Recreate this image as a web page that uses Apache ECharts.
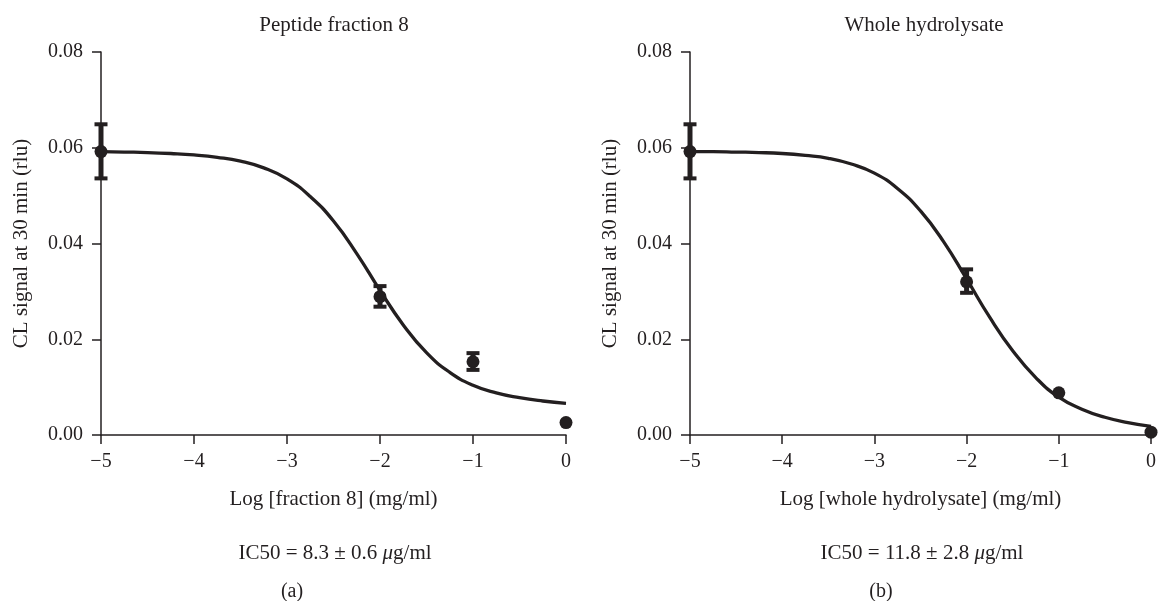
<!DOCTYPE html>
<html><head><meta charset="utf-8">
<script src="https://cdn.jsdelivr.net/npm/echarts@6/dist/echarts.min.js"></script>
<style>html,body{margin:0;padding:0;background:#fff}#c{width:1159px;height:601px}</style>
</head><body><div id="c"></div>
<script>
// Left panel (a): Peptide fraction 8
const xLogA = [-5, -2, -1, 0];
const meanA = [0.0592, 0.0289, 0.0153, 0.0026];
const lowA  = [0.0536, 0.0268, 0.0136, null];
const highA = [0.0649, 0.0311, 0.0171, null];
const curveXA = [-5, -4.75, -4.5, -4.25, -4, -3.75, -3.5, -3.25, -3, -2.75, -2.5, -2.25, -2, -1.75, -1.5, -1.25, -1, -0.75, -0.5, -0.25, 0];
const curveYA = [0.0592, 0.0591, 0.0590, 0.0588, 0.0585, 0.0580, 0.0572, 0.0558, 0.0535, 0.0498, 0.0447, 0.0379, 0.0302, 0.0230, 0.0172, 0.0131, 0.0104, 0.0088, 0.0078, 0.0071, 0.0066];
// Right panel (b): Whole hydrolysate
const xLogB = [-5, -2, -1, 0];
const meanB = [0.0592, 0.0320, 0.0088, 0.0006];
const lowB  = [0.0536, 0.0297, null, null];
const highB = [0.0649, 0.0346, null, null];
const curveXB = [-5, -4.75, -4.5, -4.25, -4, -3.75, -3.5, -3.25, -3, -2.75, -2.5, -2.25, -2, -1.75, -1.5, -1.25, -1, -0.75, -0.5, -0.25, 0];
const curveYB = [0.0592, 0.0592, 0.0591, 0.0590, 0.0588, 0.0584, 0.0578, 0.0566, 0.0547, 0.0515, 0.0468, 0.0404, 0.0326, 0.0246, 0.0176, 0.0120, 0.0079, 0.0054, 0.0037, 0.0026, 0.0018];

const yTicks = [0, 0.02, 0.04, 0.06, 0.08];
const xTicks = [-5, -4, -3, -2, -1, 0];

const FONT = '"Liberation Serif", "DejaVu Serif", serif';
const INK = '#231f20';

function pairs(xs, ys){ return xs.map((x,i)=>[x, ys[i]]); }
function errData(xs, lo, hi){ const d=[]; xs.forEach((x,i)=>{ if(lo[i]!=null) d.push([x, lo[i], hi[i]]); }); return d; }

function renderErr(params, api){
  const x = api.value(0);
  const p1 = api.coord([x, api.value(1)]);
  const p2 = api.coord([x, api.value(2)]);
  const hw = 6.5;
  return {type:'group', children:[
    {type:'line', shape:{x1:p1[0], y1:p1[1], x2:p2[0], y2:p2[1]}, style:{stroke: INK, lineWidth: 5}},
    {type:'line', shape:{x1:p1[0]-hw, y1:p1[1], x2:p1[0]+hw, y2:p1[1]}, style:{stroke: INK, lineWidth: 4}},
    {type:'line', shape:{x1:p2[0]-hw, y1:p2[1], x2:p2[0]+hw, y2:p2[1]}, style:{stroke: INK, lineWidth: 4}}
  ]};
}

function xAxis(idx, name){
  return {
    type:'value', gridIndex: idx, min:xTicks[0], max:xTicks[xTicks.length-1], interval:1,
    name: name, nameLocation:'middle', nameGap: 54,
    nameTextStyle:{fontFamily:FONT, fontSize:21, color:INK},
    axisLine:{show:true, onZero:false, lineStyle:{color:INK, width:1.5}},
    axisTick:{show:true, length:9, lineStyle:{color:INK, width:1.5}},
    axisLabel:{fontFamily:FONT, fontSize:20, color:INK, margin:17,
      formatter: v => String(v).replace('-', '\u2212')},
    splitLine:{show:false}
  };
}
function yAxis(idx){
  return {
    type:'value', gridIndex: idx, min:yTicks[0], max:yTicks[yTicks.length-1], interval:0.02,
    name:'CL signal at 30 min (rlu)', nameLocation:'middle', nameGap: 69,
    nameTextStyle:{fontFamily:FONT, fontSize:21, color:INK},
    axisLine:{show:true, onZero:false, lineStyle:{color:INK, width:1.5}},
    axisTick:{show:true, length:9, lineStyle:{color:INK, width:1.5}},
    axisLabel:{fontFamily:FONT, fontSize:20, color:INK, margin:18,
      formatter: v => v.toFixed(2)},
    splitLine:{show:false}
  };
}

const chart = echarts.init(document.getElementById('c'), null, {renderer:'canvas'});
const T = (text, x, y, size) => ({type:'text', x, y, style:{text, font: size+'px '+FONT, fill:INK, align:'center', verticalAlign:'middle',
  rich:{i:{fontFamily:FONT, fontSize:size, fontStyle:'italic', fill:INK, color:INK}}}});
const curve = (i, xs, ys) => ({type:'line', xAxisIndex:i, yAxisIndex:i, data:pairs(xs, ys), smooth:0.5,
  showSymbol:false, lineStyle:{color:INK, width:3.3}, z:2});
chart.setOption({
  backgroundColor:'#fff',
  animation:false,
  grid:[
    {left:101, right:593, top:52, bottom:166},
    {left:690, right:6, top:52, bottom:166}
  ],
  xAxis:[xAxis(0,'Log [fraction 8] (mg/ml)'), xAxis(1,'Log [whole hydrolysate] (mg/ml)')],
  yAxis:[yAxis(0), yAxis(1)],
  graphic:[
    T('Peptide fraction 8', 334, 25, 21),
    T('Whole hydrolysate', 924, 25, 21),
    T('IC50 = 8.3 \u00b1 0.6 {i|\u03bc}g/ml', 335, 553, 21),
    T('IC50 = 11.8 \u00b1 2.8 {i|\u03bc}g/ml', 922, 553, 21),
    T('(a)', 292, 592, 20),
    T('(b)', 881, 592, 20)
  ],
  series:[
    curve(0, curveXA, curveYA),
    {type:'custom', xAxisIndex:0, yAxisIndex:0, data:errData(xLogA, lowA, highA), renderItem:renderErr, z:3},
    {type:'scatter', xAxisIndex:0, yAxisIndex:0, data:pairs(xLogA, meanA), symbol:'circle', symbolSize:13,
      itemStyle:{color:INK, opacity:1}, z:4},
    curve(1, curveXB, curveYB),
    {type:'custom', xAxisIndex:1, yAxisIndex:1, data:errData(xLogB, lowB, highB), renderItem:renderErr, z:3},
    {type:'scatter', xAxisIndex:1, yAxisIndex:1, data:pairs(xLogB, meanB), symbol:'circle', symbolSize:13,
      itemStyle:{color:INK, opacity:1}, z:4}
  ]
});
</script></body></html>
